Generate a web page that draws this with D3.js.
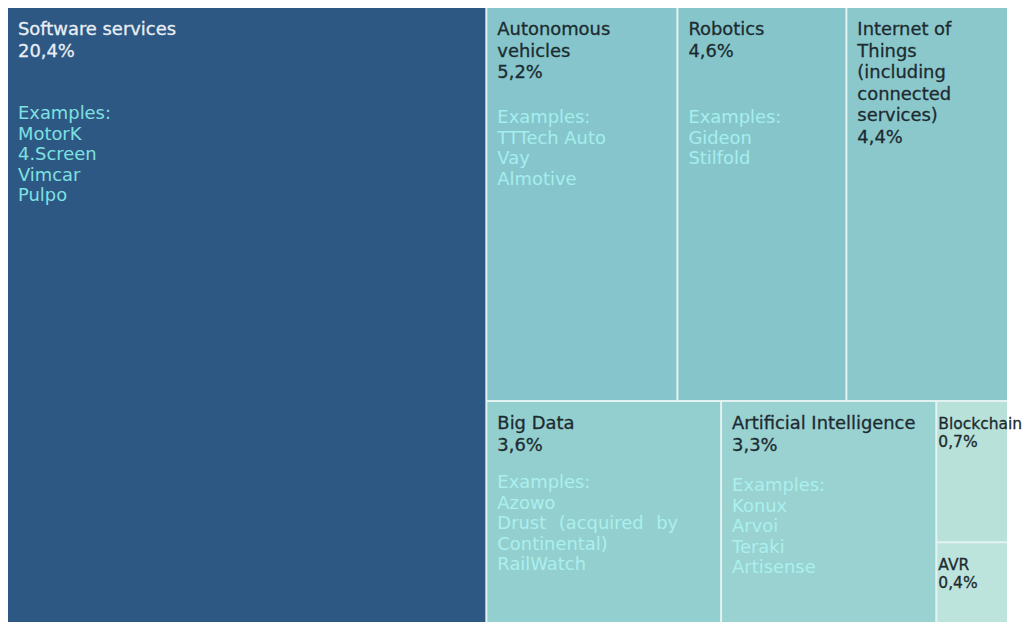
<!DOCTYPE html>
<html>
<head>
<meta charset="utf-8">
<script src="https://cdn.jsdelivr.net/npm/d3@7/dist/d3.min.js"></script>
<style>
  html, body { margin: 0; padding: 0; background: #ffffff; }
  svg { display: block; font-family: "DejaVu Sans", Verdana, sans-serif; }
</style>
</head>
<body>
<svg id="chart" width="1027" height="624"></svg>
<script>
// ---- Data ----
const categories = [
  "Software services",
  "Autonomous vehicles",
  "Robotics",
  "Internet of Things (including connected services)",
  "Big Data",
  "Artificial Intelligence",
  "Blockchain",
  "AVR"
];
const shares = [20.4, 5.2, 4.6, 4.4, 3.6, 3.3, 0.7, 0.4];
const examples = [
  ["MotorK", "4.Screen", "Vimcar", "Pulpo"],
  ["TTTech Auto", "Vay", "Almotive"],
  ["Gideon", "Stilfold"],
  [],
  ["Azowo", "Drust (acquired by Continental)", "RailWatch"],
  ["Konux", "Arvoi", "Teraki", "Artisense"],
  [],
  []
];
// grouping of the tiles (rows / columns of the treemap)
const groupTree = [
  "Software services",
  [
    ["Autonomous vehicles", "Robotics", "Internet of Things (including connected services)"],
    ["Big Data", "Artificial Intelligence", ["Blockchain", "AVR"]]
  ]
];

// ---- Styles ----
const fills = ["#2d5883", "#85c5cb", "#86c6cb", "#8bc8cc", "#93cfcf", "#99d2d1", "#b8e1d9", "#bde4dc"];
const labelColors = ["#e9eef4", "#1d2b30", "#1d2b30", "#1d2b30", "#1d2b30", "#1d2b30", "#1d2b30", "#1d2b30"];
const exampleColors = ["#7fe0e2", "#a6eeee", "#a6eeee", "#a6eeee", "#abf0ee", "#abf0ee", "#abf0ee", "#abf0ee"];
const examplesOffset = { "Software services": 111, "Autonomous vehicles": 115, "Robotics": 115, "Big Data": 86, "Artificial Intelligence": 89 };

const svg = d3.select("#chart");
const X0 = 8, Y0 = 8, X1 = 1007, Y1 = 622;

function build(node) {
  if (typeof node === "string") {
    const i = categories.indexOf(node);
    return { name: node, value: shares[i], idx: i };
  }
  return { children: node.map(build) };
}
const root = d3.hierarchy({ children: groupTree.map(build) })
  .sum(d => d.value || 0);

d3.treemap()
  .tile(d3.treemapSliceDice)
  .size([X1 - X0, Y1 - Y0])
  .paddingInner(2)
  .round(false)(root);

const g = svg.append("g").attr("transform", `translate(${X0},${Y0})`);
g.append("rect").attr("width", X1 - X0).attr("height", Y1 - Y0).attr("fill", "#e3f3f1");

const fmt = v => d3.format(".1f")(v).replace(".", ",") + "%";

// measuring helper
const meas = svg.append("text").attr("visibility", "hidden");
function textWidth(s, size) {
  meas.attr("font-size", size).text(s);
  return meas.node().getComputedTextLength();
}
function wrap(s, width, size) {
  const words = s.split(" ");
  const lines = [];
  let cur = "";
  words.forEach(w => {
    const t = cur ? cur + " " + w : w;
    if (cur && textWidth(t, size) > width) { lines.push(cur); cur = w; }
    else cur = t;
  });
  if (cur) lines.push(cur);
  return lines;
}

const leaves = root.leaves();
const cell = g.selectAll("g.cell").data(leaves).join("g").attr("class", "cell")
  .attr("transform", d => `translate(${d.x0},${d.y0})`);

cell.append("rect")
  .attr("width", d => d.x1 - d.x0)
  .attr("height", d => d.y1 - d.y0)
  .attr("fill", d => fills[d.data.idx]);

cell.each(function (d) {
  const sel = d3.select(this);
  const w = d.x1 - d.x0;
  const small = w < 100;
  const size = small ? 15.5 : 17.9;
  const pitch = small ? 18 : 21.5;
  const i = d.data.idx;
  const lines = wrap(d.data.name, w - 20, size).concat([fmt(shares[i])]);
  const lab = sel.append("text")
    .attr("font-size", size)
    .attr("fill", labelColors[i])
    .attr("stroke", labelColors[i])
    .attr("stroke-width", 0.3);
  lines.forEach((l, k) => {
    lab.append("tspan").attr("x", small ? 1 : 10).attr("y", 27 + k * pitch).text(l);
  });

  const ex = examples[i];
  if (ex.length) {
    const exLines = [{ t: "Examples:", j: false }];
    ex.forEach(e => {
      const wl = wrap(e, w - 52, size);
      wl.forEach((l, k) => exLines.push({ t: l, j: k < wl.length - 1 }));
    });
    const et = sel.append("text").attr("font-size", size).attr("fill", exampleColors[i]);
    const off = examplesOffset[d.data.name];
    exLines.forEach((l, k) => {
      const ts = et.append("tspan").attr("x", 10).attr("y", off + k * 20.6).text(l.t);
      if (l.j) {
        const nat = textWidth(l.t, size);
        const spaces = (l.t.match(/ /g) || []).length;
        if (spaces) ts.attr("word-spacing", ((w - 52) - nat) / spaces);
      }
    });
  }
});
meas.remove();
</script>
</body>
</html>
